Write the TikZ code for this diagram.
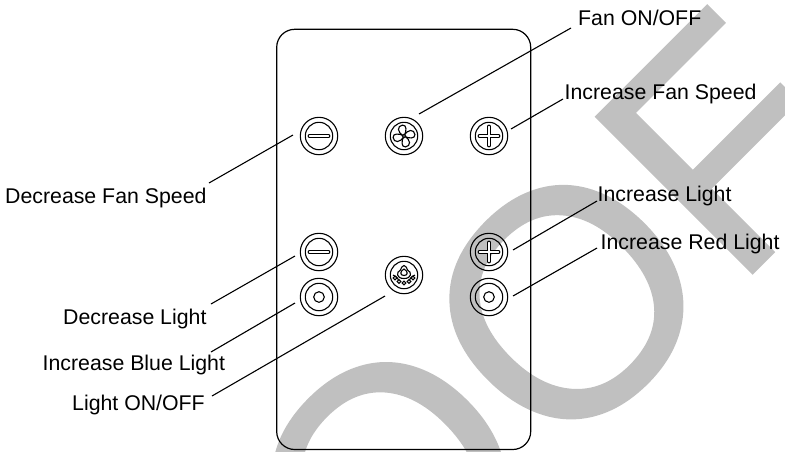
\documentclass[tikz,border=0pt]{standalone}
\usepackage{fontspec}
\setmainfont{Liberation Sans}
\newfontfamily\markfont[FakeBold=0.6]{Liberation Sans}
\definecolor{markgray}{HTML}{C0C0C0}
\tikzset{
    btn/.style={draw, circle, line width=1.1pt, minimum size=37.4pt, inner sep=0pt},
    btnin/.style={draw, circle, line width=1.1pt, minimum size=27.4pt, inner sep=0pt},
    lbl/.style={anchor=base west, inner sep=0pt, font=\fontsize{21.3}{21.3}\selectfont},
    lead/.style={line width=1.1pt},
    icon/.style={line width=1.1pt},
    minusmark/.pic={
        \draw[line width=3.8pt, line cap=round] (-9.5,0) -- (9.5,0);
        \draw[line width=1.3pt, white, line cap=round] (-9.5,0) -- (9.5,0);
    },
    plusmark/.pic={
        \draw[line width=3.8pt, line cap=round] (-9.5,0) -- (9.5,0) (0,-9.5) -- (0,9.5);
        \draw[line width=1.3pt, white, line cap=round] (-9.5,0) -- (9.5,0) (0,-9.5) -- (0,9.5);
    },
    ringmark/.pic={\draw[icon] (0,0) circle (5.3);},
    fanmark/.pic={
        \foreach \a in {0,90,180,270}
            \draw[icon, rotate=\a+5] (0,0) .. controls (-7,-4) and (-6,-11) .. (-0.5,-11) .. controls (4,-11) and (3,-4) .. (0,0);
        \draw[icon, fill=white] (0,0) circle (1.7);
    },
    lampmark/.pic={
        \draw[icon] (0,3.5) .. controls (-8,3.5) and (-8,-3) .. (-3.5,-5) .. controls (-3.5,-7) and (-1.5,-9) .. (0,-9.5) .. controls (1.5,-9) and (3.5,-7) .. (3.5,-5) .. controls (8,-3) and (8,3.5) .. (0,3.5);
        \draw[icon] (0,0.5) .. controls (-4.5,0.5) and (-4,-4) .. (0,-6) .. controls (4,-4) and (4.5,0.5) .. (0,0.5);
        \draw[icon] (-11,0) .. controls (-7,2) .. (-5,6);
        \draw[icon] (11,0) .. controls (7,2) .. (5,6);
        \foreach \p in {(-9,3),(-5,6.5),(0,8),(5,6.5),(9,3)}
            \draw[icon, fill=white] \p circle (1.8);
    }
}
\begin{document}
\begin{tikzpicture}[x=1pt, y=-1pt]
        \useasboundingbox (0,0) rectangle (785,451);
        \clip (0,0) rectangle (785,451);

        % watermark, behind everything
        \node[anchor=base west, inner sep=0pt, rotate=45, text=markgray, font=\markfont\fontsize{322}{322}\selectfont] (mark) at (379.5,646.5) {OOF};

        \draw[line width=1.2pt, rounded corners=18pt] (276.7,29.3) rectangle (530.7,449.5);

        \node[btn] (bMinusFan) at (319,136) {};
        \node[btn] (bFan) at (404,136) {};
        \node[btn] (bPlusFan) at (489,136) {};
        \node[btn] (bMinusLight) at (319,252) {};
        \node[btn] (bLamp) at (404,275) {};
        \node[btn] (bPlusLight) at (489,252) {};
        \node[btn] (bBlue) at (319,297) {};
        \node[btn] (bRed) at (489,297) {};

        \foreach \b in {bMinusFan,bFan,bPlusFan,bMinusLight,bLamp,bPlusLight,bBlue,bRed}
            \node[btnin] at (\b) {};

        \pic at (bMinusFan) {minusmark};
        \pic at (bFan) {fanmark};
        \pic at (bPlusFan) {plusmark};
        \pic at (bMinusLight) {minusmark};
        \pic at (bLamp) {lampmark};
        \pic at (bPlusLight) {plusmark};
        \pic at (bBlue) {ringmark};
        \pic at (bRed) {ringmark};

        \node[lbl] (lFan) at (578,25) {Fan ON/OFF};
        \node[lbl] (lPlusFan) at (564.5,99) {Increase Fan Speed};
        \node[lbl] (lPlusLight) at (597.5,201) {Increase Light};
        \node[lbl] (lRed) at (600.5,249) {Increase Red Light};
        \node[lbl] (lMinusFan) at (5,203) {Decrease Fan Speed};
        \node[lbl] (lMinusLight) at (63,324) {Decrease Light};
        \node[lbl] (lBlue) at (42.5,370) {Increase Blue Light};
        \node[lbl] (lLamp) at (72,410) {Light ON/OFF};

        \coordinate (tFan) at (571,28);
        \coordinate (tPlusFan) at (563,99);
        \coordinate (tPlusLight) at (597,201);
        \coordinate (tRed) at (597,248);
        \coordinate (tMinusFan) at (209,183);
        \coordinate (tMinusLight) at (211,304);
        \coordinate (tBlue) at (211,352);
        \coordinate (tLamp) at (212,396);

        \draw[lead] ([shift={(15,-22)}]bFan.center) -- (tFan);
        \draw[lead] ([shift={(22,-7)}]bPlusFan.center) -- (tPlusFan);
        \draw[lead] ([shift={(24,-2)}]bPlusLight.center) -- (tPlusLight);
        \draw[lead] ([shift={(24,-1)}]bRed.center) -- (tRed);
        \draw[lead] ([shift={(-26,-1)}]bMinusFan.center) -- (tMinusFan);
        \draw[lead] ([shift={(-24,4)}]bMinusLight.center) -- (tMinusLight);
        \draw[lead] ([shift={(-24,6)}]bBlue.center) -- (tBlue);
        \draw[lead] ([shift={(-19,21)}]bLamp.center) -- (tLamp);
    \end{tikzpicture}
\end{document}
